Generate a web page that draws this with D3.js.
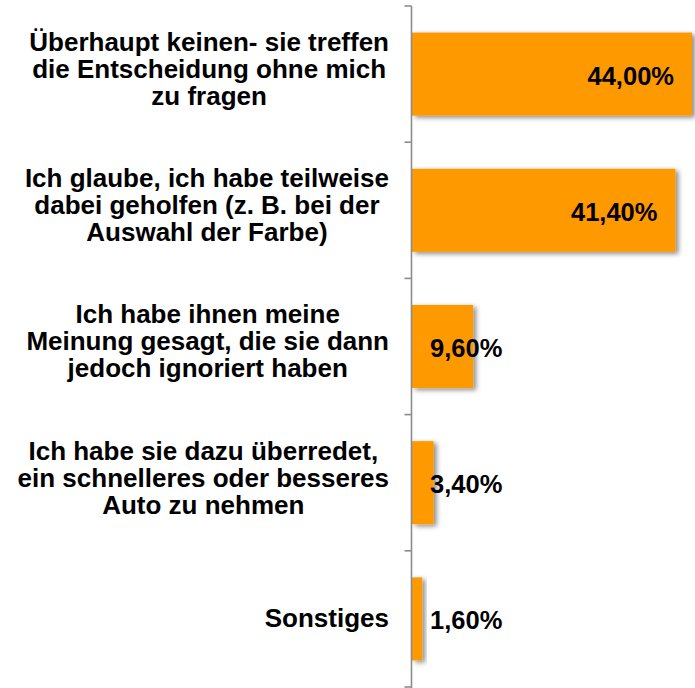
<!DOCTYPE html>
<html>
<head>
<meta charset="utf-8">
<script src="https://cdn.jsdelivr.net/npm/d3@7"></script>
<style>
  body { margin: 0; background: #fff; }
  svg { display: block; font-family: "Liberation Sans", Arial, sans-serif; }
</style>
</head>
<body>
<script>
// answers, one entry per bar, each broken into its printed lines
const categories = [
  ["Überhaupt keinen- sie treffen", "die Entscheidung ohne mich", "zu fragen"],
  ["Ich glaube, ich habe teilweise", "dabei geholfen (z. B. bei der", "Auswahl der Farbe)"],
  ["Ich habe ihnen meine", "Meinung gesagt, die sie dann", "jedoch ignoriert haben"],
  ["Ich habe sie dazu überredet,", "ein schnelleres oder besseres", "Auto zu nehmen"],
  ["Sonstiges"]
];
const values = [44.0, 41.4, 9.6, 3.4, 1.6];

const width = 695, height = 688;
const axisX = 411.5;
const labelRight = 389;
const fontSize = 26, lineHeight = 27;

const svg = d3.select("body").append("svg")
    .attr("width", width)
    .attr("height", height);

// soft grey shadow behind the bars
const defs = svg.append("defs");
defs.append("filter")
    .attr("id", "shadow")
    .attr("x", "-20%").attr("y", "-20%")
    .attr("width", "160%").attr("height", "160%")
  .append("feDropShadow")
    .attr("dx", 3)
    .attr("dy", 2)
    .attr("stdDeviation", 2.5)
    .attr("flood-color", "#000")
    .attr("flood-opacity", 0.45);

let y = d3.scaleBand()
    .domain(d3.range(values.length))
    .range([6, 687])
    .paddingInner(0.39)
    .paddingOuter(0.195);

let x = d3.scaleLinear()
    .domain([0, 44])
    .range([axisX + 0.5, 692]);

// bars
svg.append("g")
    .selectAll("rect")
    .data(values)
    .join("rect")
    .attr("x", x(0))
    .attr("y", (d, i) => y(i))
    .attr("width", d => x(d) - x(0))
    .attr("height", y.bandwidth())
    .attr("fill", "#ff9900")
    .attr("filter", "url(#shadow)");

// axis line with ticks between the categories
const axis = svg.append("g")
    .attr("stroke", "#8c8c8c")
    .attr("stroke-width", 1.6);

const step = y.step();
const start = y(0) - step * y.paddingOuter();
axis.append("line")
    .attr("x1", axisX).attr("x2", axisX)
    .attr("y1", start).attr("y2", height);

axis.selectAll(".tick")
    .data(d3.range(values.length + 1))
    .join("line")
    .attr("class", "tick")
    .attr("x1", axisX - 7).attr("x2", axisX)
    .attr("y1", i => start + i * step)
    .attr("y2", i => start + i * step);

// category labels: lines centred within the block, block right-aligned
const labels = svg.append("g")
    .attr("font-size", fontSize)
    .attr("font-weight", "bold")
    .attr("fill", "#000");

categories.forEach((lines, i) => {
  let t = labels.append("text").attr("text-anchor", "middle");
  let spans = lines.map(l => t.append("tspan").text(l));
  let w = d3.max(spans, s => s.node().getComputedTextLength());
  let cy = y(i) + y.bandwidth() / 2 - (lines.length > 1 ? 5.5 : 1.5);
  spans.forEach((s, k) => {
    s.attr("x", labelRight - w / 2)
      .attr("y", cy + (k - (lines.length - 1) / 2) * lineHeight + fontSize * 0.36);
  });
});

// value labels: inside the end for big bars, next to the axis for small ones
const fmt = v => v.toFixed(2).replace(".", ",") + "%";
svg.append("g")
    .attr("font-size", 25.5)
    .attr("font-weight", "bold")
    .selectAll("text")
    .data(values)
    .join("text")
    .attr("text-anchor", d => d > 20 ? "end" : "start")
    .attr("x", d => d > 20 ? x(d) - 18 : axisX + 18.5)
    .attr("y", (d, i) => y(i) + y.bandwidth() / 2 + 1.5)
    .attr("dy", "0.35em")
    .text(fmt);
</script>
</body>
</html>
